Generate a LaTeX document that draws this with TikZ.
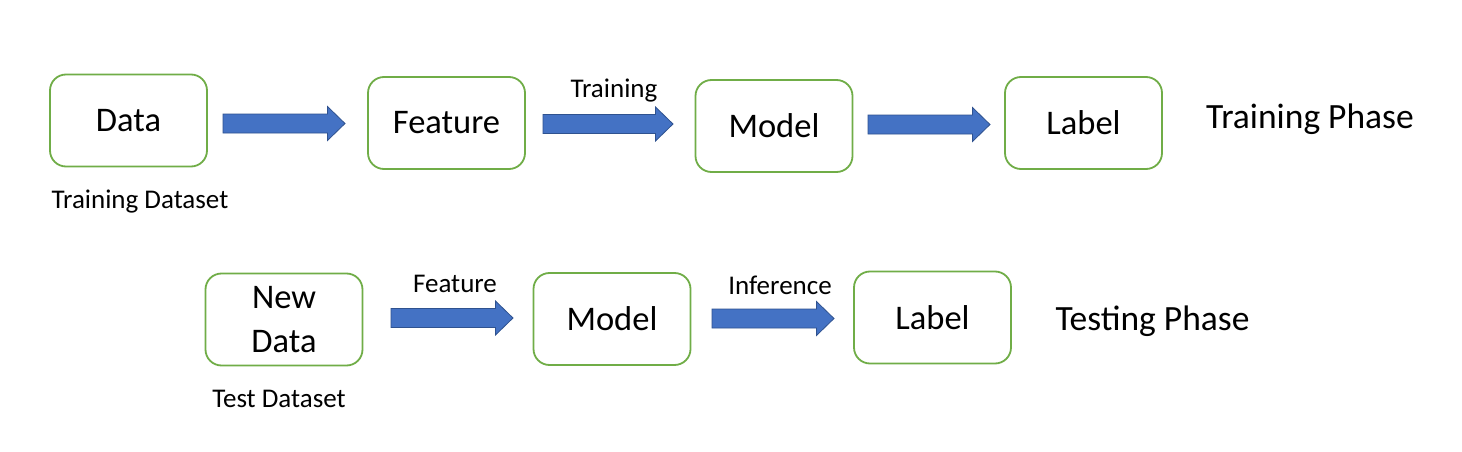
\documentclass[tikz,border=0pt]{standalone}
\usepackage{fontspec}
\setmainfont{Carlito}
\definecolor{boxgreen}{HTML}{70AD47}
\definecolor{arrowblue}{HTML}{4472C4}
\definecolor{arrowedge}{HTML}{2F528F}
\newcommand{\blockarrow}[3]{%
  \draw[blockarrow] (#1,#3-9.5) -- (#2-17.5,#3-9.5) -- (#2-17.5,#3-17) -- (#2,#3)
    -- (#2-17.5,#3+17) -- (#2-17.5,#3+9.5) -- (#1,#3+9.5) -- cycle;}
\tikzset{
  stagebox/.style={draw=boxgreen, line width=1.8pt, rounded corners=16pt,
    minimum width=157pt, minimum height=92pt, inner sep=0pt, align=center,
    font=\fontsize{34.5}{44}\selectfont},
  blockarrow/.style={fill=arrowblue, draw=arrowedge, line width=0.8pt},
  smalltext/.style={anchor=base, inner sep=0pt, font=\fontsize{27}{32}\selectfont},
  phasetext/.style={anchor=base, inner sep=0pt, font=\fontsize{35.5}{42}\selectfont},
}
\begin{document}
\begin{tikzpicture}[x=1pt,y=-1pt]
\useasboundingbox[fill=white] (0,0) rectangle (1462,452);
% row 1
\node[stagebox] (data) at (128.5,120.5) {Data};
\node[stagebox] (feat) at (446.5,123) {Feature};
\node[stagebox] (model) at (774,126) {Model};
\node[stagebox] (label) at (1083.5,123) {Label};
\blockarrow{223}{345}{123.5}
\blockarrow{543}{673}{124}
\blockarrow{868}{990}{124.5}
\node[smalltext] (trainlbl) at (614,97) {Training};
\node[smalltext] (trainds) at (140,208) {Training Dataset};
\node[phasetext] (trainphase) at (1310,128) {Training Phase};
% row 2
\node[stagebox] (newdata) at (284,319.5) {New\\Data};
\node[stagebox] (model2) at (612,319) {Model};
\node[stagebox] (label2) at (932.5,317.5) {Label};
\blockarrow{391}{513}{318}
\blockarrow{712}{834}{318.5}
\node[smalltext] (featlbl) at (455,292) {Feature};
\node[smalltext] (inflbl) at (780,294) {Inference};
\node[smalltext] (testds) at (279,407) {Test Dataset};
\node[phasetext] (testphase) at (1152.5,330) {Testing Phase};
\end{tikzpicture}
\end{document}
